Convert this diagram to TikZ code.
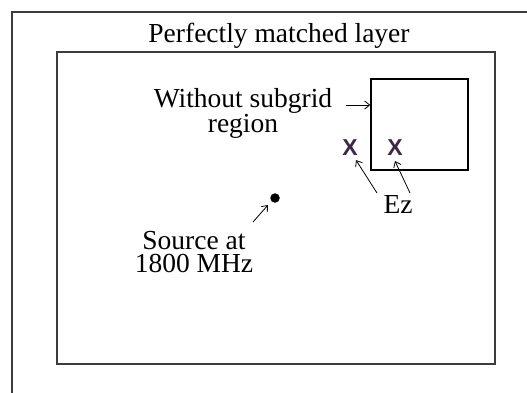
\documentclass[tikz,border=0pt]{standalone}
\usepackage{fontspec}
\setmainfont{Liberation Serif}
\newfontfamily\xfont{Liberation Sans}
\usetikzlibrary{arrows.meta}
\definecolor{xcol}{RGB}{60,40,70}
\definecolor{framecol}{RGB}{60,60,60}
\begin{document}
\begin{tikzpicture}[x=1pt,y=-1pt,
  frame/.style={draw=framecol, line width=1.8pt},
  lbl/.style={font=\fontsize{27.5}{23.5}\selectfont, inner sep=0pt, align=center},
  ptr/.style={line width=0.8pt, -{Straight Barb[length=5pt,width=8pt]}},
  xmark/.style={font=\xfont\bfseries\fontsize{23}{23}\selectfont, text=xcol, inner sep=0pt}]
\useasboundingbox (0,0) rectangle (527,392);
\fill[white] (0,0) rectangle (527,392);
\clip (0,0) rectangle (527,392);
\draw[frame] (12,12) rectangle (560,420);
\draw[frame] (57,52) rectangle (495,364);
\node[lbl, anchor=base] (title) at (279,42) {Perfectly matched layer};
\node[draw=black, line width=1.4pt, minimum width=97pt, minimum height=91pt, inner sep=0pt] (sub) at (419.5,124.5) {};
\node[lbl] (without) at (243,113) {Without subgrid\\region};
\coordinate (wa) at (346,105);
\draw[ptr] (wa) -- (wa -| sub.west);
\node[xmark] (x1) at (350,148) {X};
\node[xmark] (x2) at (395,148) {X};
\node[lbl, anchor=base] (ez) at (398,213) {Ez};
\coordinate (e1) at (377,193);
\coordinate (e2) at (410,193);
\draw[ptr] (e1) -- ([xshift=6pt,yshift=-4pt]x1.south);
\draw[ptr] (e2) -- ([yshift=-5pt]x2.south);
\node[circle, fill=black, minimum size=9.5pt, inner sep=0pt] (dot) at (275,198) {};
\node[lbl] (src) at (194,252) {Source at\\1800 MHz};
\coordinate (s1) at (253,222);
\draw[ptr] (s1) -- ([xshift=-7pt,yshift=-7pt]dot.center);
\end{tikzpicture}
\end{document}
